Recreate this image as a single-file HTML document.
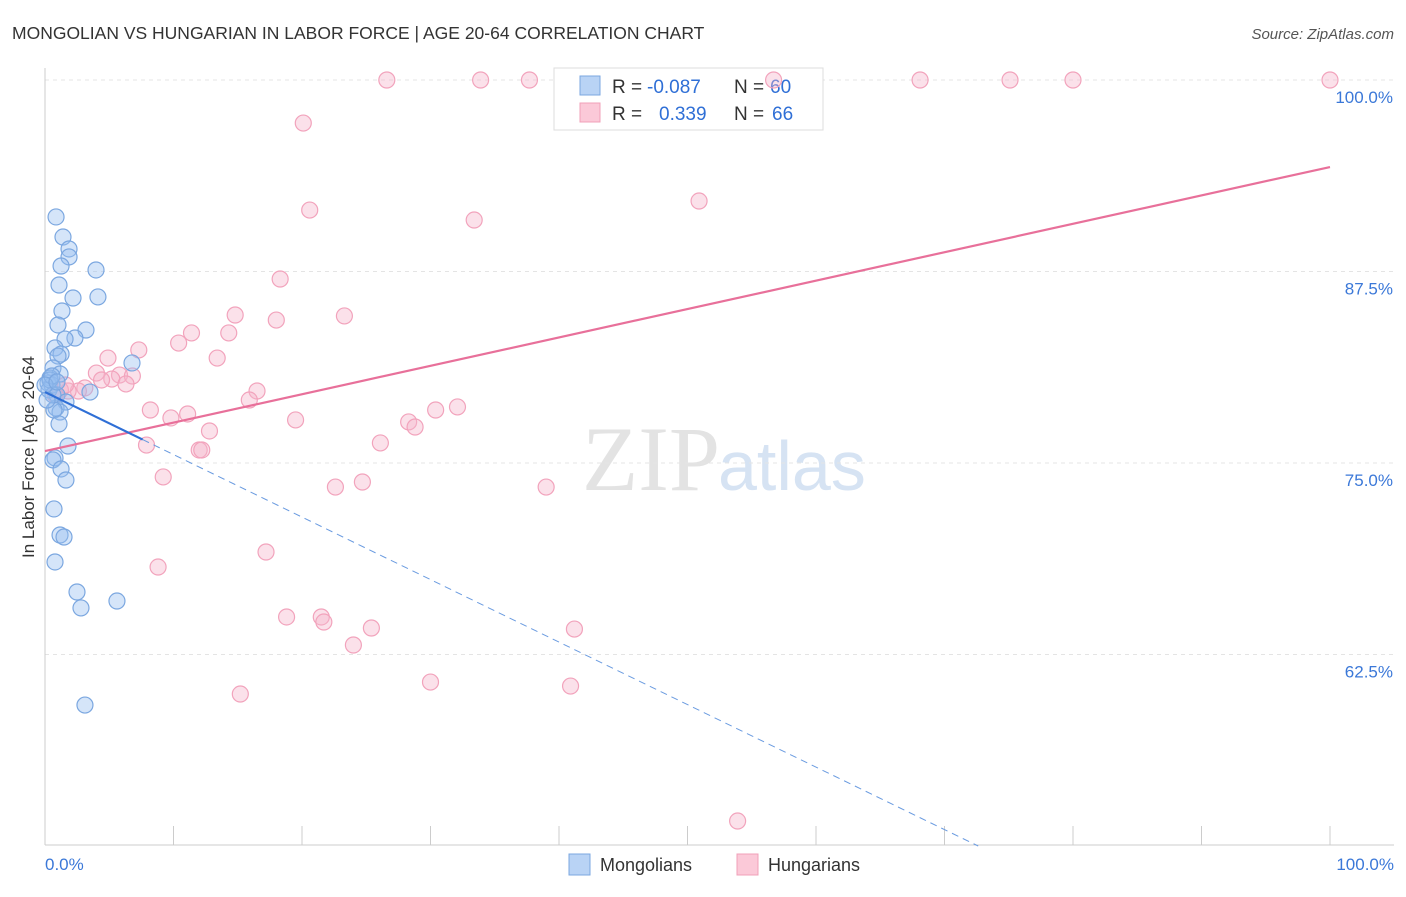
<!DOCTYPE html>
<html><head><meta charset="utf-8"><style>
body{margin:0;background:#fff;font-family:"Liberation Sans",sans-serif;}
</style></head><body>
<svg id="chart" width="1406" height="892" xmlns="http://www.w3.org/2000/svg">
<text x="12" y="39" font-size="17.5" fill="#333">MONGOLIAN VS HUNGARIAN IN LABOR FORCE | AGE 20-64 CORRELATION CHART</text>
<text x="1394" y="39" font-size="15" fill="#555" font-style="italic" text-anchor="end">Source: ZipAtlas.com</text>
<text x="720" y="490" font-size="92" fill="#e3e3e3" text-anchor="end" font-family="Liberation Serif">ZIP</text>
<text x="718" y="490" font-size="70" fill="#d6e3f3">atlas</text>
<text transform="translate(34,457) rotate(-90)" font-size="17" fill="#333" text-anchor="middle">In Labor Force | Age 20-64</text>
<g id="grid"></g>
<g>
<rect x="554" y="68" width="269" height="62" fill="#fff" stroke="#ddd"/>
<rect x="580" y="76" width="20" height="19" fill="#b9d3f5" stroke="#7ba7e0"/>
<rect x="580" y="103" width="20" height="19" fill="#fbc9d8" stroke="#f0a0b8"/>
<text y="93" font-size="19" fill="#333"><tspan x="612">R =</tspan><tspan x="647" fill="#2f6fd6">-0.087</tspan><tspan x="734">N =</tspan><tspan x="770" fill="#2f6fd6">60</tspan></text>
<text y="120" font-size="19" fill="#333"><tspan x="612">R =</tspan><tspan x="659" fill="#2f6fd6">0.339</tspan><tspan x="734">N =</tspan><tspan x="772" fill="#2f6fd6">66</tspan></text>
</g>
<g id="marks"></g>
<g>
<rect x="569" y="854" width="21" height="21" fill="#b9d3f5" stroke="#7ba7e0"/>
<text x="600" y="871" font-size="18" fill="#333">Mongolians</text>
<rect x="737" y="854" width="21" height="21" fill="#fbc9d8" stroke="#f0a0b8"/>
<text x="768" y="871" font-size="18" fill="#333">Hungarians</text>
</g>
</svg>
<script>
const yTicks=[100,87.5,75,62.5];
const yTickLabels=["100.0%","87.5%","75.0%","62.5%"];
const blueX=[0.86,1.40,1.87,1.87,1.25,3.97,1.09,2.18,4.12,1.32,1.01,3.19,2.33,1.56,0.78,1.25,1.01,6.77,0.62,1.17,0.39,0.23,0.54,0.31,3.50,0.93,1.63,0.86,1.17,0.70,1.09,1.79,0.78,0.62,1.25,1.63,0.70,1.17,1.48,0.78,2.49,2.80,5.60,3.11,0.39,0.62,0.16,0.54,0,0.93];
const blueY=[91.06,89.75,88.97,88.45,87.86,87.60,86.62,85.77,85.84,84.92,84.01,83.68,83.16,83.09,82.51,82.11,81.98,81.53,81.20,80.81,80.55,80.22,80.09,79.77,79.63,79.44,78.98,78.59,78.33,78.46,77.55,76.11,75.33,75.20,74.61,73.89,72.00,70.30,70.17,68.54,66.58,65.54,65.99,59.20,80.42,79.44,79.11,80.68,80.09,80.29];
const pinkX=[26.6,33.9,37.7,56.7,68.1,75.1,80.0,100,20.1,20.6,33.4,50.9,18.3,14.8,18.0,23.3,11.4,14.3,10.4,7.3,4.9,13.4,4.0,5.8,6.8,5.2,4.4,6.3,3.1,2.6,1.8,1.2,16.5,15.9,8.2,11.1,9.8,19.5,28.3,28.8,30.4,32.1,12.8,12.0,12.2,7.9,26.1,9.2,22.6,24.7,39.0,17.2,8.8,18.8,21.5,21.7,25.4,24.0,41.2,30.0,40.9,15.2,53.9,1.6,0.8];
const pinkY=[100,100,100,100,100,100,100,100,97.19,91.51,90.86,92.10,87.01,84.66,84.33,84.60,83.49,83.49,82.83,82.38,81.85,81.85,80.87,80.74,80.68,80.48,80.42,80.16,79.90,79.70,79.70,79.77,79.70,79.11,78.46,78.20,77.94,77.81,77.68,77.35,78.46,78.66,77.09,75.85,75.85,76.17,76.31,74.09,73.43,73.76,73.43,69.19,68.21,64.95,64.95,64.62,64.23,63.12,64.16,60.70,60.44,59.92,51.63,80.09,79.44];
const blueTrend=[79.63,-0.408];
const pinkTrend=[75.78,94.32];
const NS="http://www.w3.org/2000/svg";
const X0=45,X1=1330,Ybot=845;
function sx(v){return X0+(X1-X0)*v/100;}
function sy(v){return 80+(100-v)*15.32;}
function mk(tag,attrs,parent){const e=document.createElementNS(NS,tag);for(const k in attrs)e.setAttribute(k,attrs[k]);parent.appendChild(e);return e;}
const grid=document.getElementById('grid'),marks=document.getElementById('marks');
yTicks.forEach((t,i)=>{
 const l=mk('line',{x1:X0,x2:1394,y1:sy(t),y2:sy(t),stroke:'#e4e4e4','stroke-dasharray':'4,4'},grid);
 
 
 const tx=mk('text',{x:1393,y:sy(t)+23,'font-size':17,fill:'#3b78d8','text-anchor':'end'},grid);
 tx.textContent=yTickLabels[i];
 
 
});
let ax=mk('line',{x1:X0,x2:X0,y1:68,y2:Ybot,stroke:'#ccc'},grid);


let bx=mk('line',{x1:X0,x2:1394,y1:Ybot,y2:Ybot,stroke:'#ccc'},grid);


for(let i=1;i<=10;i++){const t=mk('line',{x1:sx(i*10),x2:sx(i*10),y1:826,y2:Ybot,stroke:'#ccc'},grid);
 
 }
[["0.0%",X0,'start'],["100.0%",1394,'end']].forEach(a=>{const t=mk('text',{x:a[1],y:870,'font-size':17,fill:'#3b78d8','text-anchor':a[2]},grid);t.textContent=a[0];
 
 });
pinkX.forEach((v,i)=>{const c=mk('circle',{cx:sx(v),cy:sy(pinkY[i]),r:8,fill:'rgba(246,180,202,0.4)',stroke:'#f2a3bc','stroke-width':1.2},marks);
 
 });
blueX.forEach((v,i)=>{const c=mk('circle',{cx:sx(v),cy:sy(blueY[i]),r:8,fill:'rgba(150,190,240,0.4)',stroke:'#7ba7e0','stroke-width':1.2},marks);
 
 });
const pl=mk('line',{x1:sx(0),y1:sy(pinkTrend[0]),x2:sx(100),y2:sy(pinkTrend[1]),stroke:'#e8709a','stroke-width':2.2},marks);


const bxEnd=(blueTrend[0]-50)/-blueTrend[1];
const bs=mk('line',{x1:sx(0),y1:sy(blueTrend[0]),x2:sx(7.6),y2:sy(blueTrend[0]+blueTrend[1]*7.6),stroke:'#2f6fd6','stroke-width':2.2},marks);


const bd=mk('line',{x1:sx(7.6),y1:sy(blueTrend[0]+blueTrend[1]*7.6),x2:sx(bxEnd),y2:sy(50),stroke:'#6a9be0','stroke-width':1,'stroke-dasharray':'7,5'},marks);


</script>
</body></html>
